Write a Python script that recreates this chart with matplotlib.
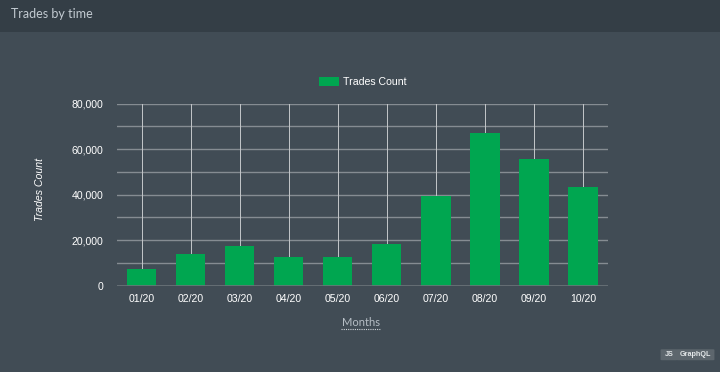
import numpy as np
import matplotlib
matplotlib.use('Agg')
import matplotlib.pyplot as plt
from matplotlib.patches import Rectangle, FancyBboxPatch

# data
months = ['01/20', '02/20', '03/20', '04/20', '05/20', '06/20', '07/20', '08/20', '09/20', '10/20']
trades = [7300, 14000, 17500, 12500, 12500, 18300, 39500, 67000, 55600, 43500]
y_ticks = [0, 20000, 40000, 60000, 80000]

bg = '#414c55'
header_bg = '#343e46'
bar_green = '#00a650'

fig = plt.figure(figsize=(7.2, 3.72), dpi=100)
fig.patch.set_facecolor(bg)

# header band
fig.patches.append(Rectangle((0, 1 - 31.5 / 372), 1, 31.5 / 372, transform=fig.transFigure,
                             facecolor=header_bg, edgecolor='none', zorder=0))
fig.text(11 / 720, 1 - 14 / 372, 'Trades by time', color='#c3cbd2', fontsize=9,
         family='Lato', va='center', ha='left')

ax = fig.add_axes([117 / 720, 1 - 285.7 / 372, 490.5 / 720, 182 / 372])
ax.set_facecolor(bg)

x = np.arange(len(months))
ax.bar(x, trades, width=0.6, color=bar_green, zorder=3, label='Trades Count')

ax.set_xlim(-0.5, len(months) - 0.5)
ax.set_ylim(0, 80000)
ax.set_yticks(np.arange(0, 80001, 10000), minor=False)
ax.set_yticklabels(['{:,}'.format(v) if v in y_ticks else '' for v in np.arange(0, 80001, 10000)])
ax.set_xticks(x)
ax.set_xticklabels(months)

# grid
for v in np.arange(10000, 80001, 10000):
    ax.axhline(v, color='#858c92', lw=1, zorder=1)
for xi in x:
    ax.axvline(xi, color='#c4c7ca', lw=0.7, zorder=1)
ax.axhline(0, color='#6c747a', lw=1.2, zorder=4)

for s in ax.spines.values():
    s.set_visible(False)
ax.tick_params(axis='both', colors='white', labelsize=7.6, length=0, pad=6)
ax.tick_params(axis='y', pad=10)
for lbl in ax.get_xticklabels() + ax.get_yticklabels():
    lbl.set_family('Liberation Sans')

ax.set_ylabel('Trades Count', color='white', fontsize=7.6, family='Liberation Sans',
              style='italic', va='center')
ax.yaxis.set_label_coords(-0.156, 0.526)

# x axis title with dotted underline
fig.text(361 / 720, 1 - 322 / 372, 'Months', color='#b6bec5', fontsize=8, family='Lato',
         ha='center', va='center')
fig.lines.append(plt.Line2D([341 / 720, 381 / 720], [1 - 328.5 / 372] * 2, transform=fig.transFigure,
                            color='#d0d5da', lw=0.8, linestyle=(0, (1, 1))))

leg = ax.legend(loc='center', bbox_to_anchor=(0.5005, 1.121), frameon=False,
                handlelength=1.9, handleheight=0.95, handletextpad=0.35, borderpad=0,
                prop={'family': 'Liberation Sans', 'size': 7.6})
for t in leg.get_texts():
    t.set_color('white')

# small badges bottom right
for label, x0, w in [('JS', 662, 14), ('GraphQL', 678, 35)]:
    fig.patches.append(FancyBboxPatch((x0 / 720, 1 - 359.5 / 372), w / 720, 9.5 / 372,
                                      boxstyle='round,pad=0.002', transform=fig.transFigure,
                                      facecolor='#5d666d', edgecolor='none'))
    fig.text((x0 + w / 2) / 720, 1 - 354.8 / 372, label, color='#e3e6e8', fontsize=5.2,
             weight='bold', ha='center', va='center', family='Liberation Sans')

fig.savefig('out.png', dpi=100, facecolor=bg)
